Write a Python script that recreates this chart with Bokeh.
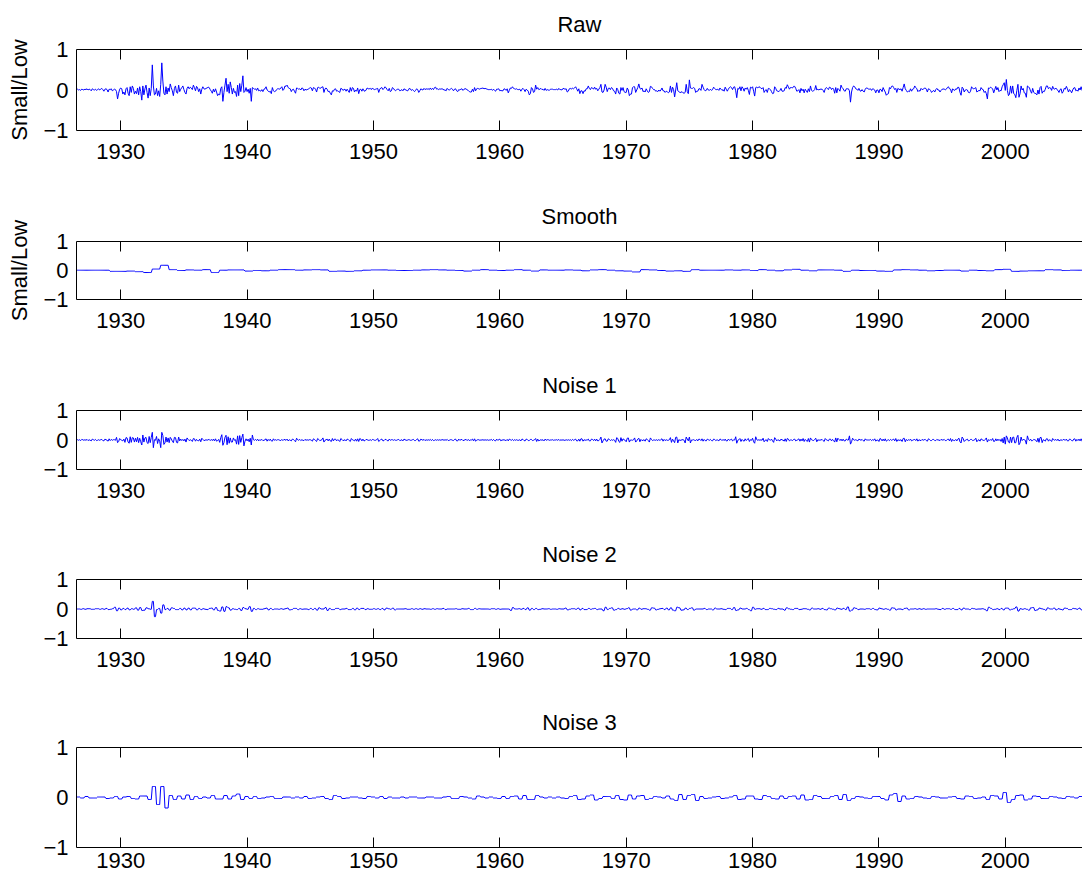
import numpy as np
from bokeh.plotting import figure
from bokeh.models import Range1d, LinearAxis, FixedTicker, CustomJSTickFormatter
from bokeh.layouts import column
from bokeh.embed import file_html
from bokeh.resources import INLINE

# ---------------- data (monthly, July 1926 .. June 2006), values in hundredths ----------------
START_YEAR = 1926.5          # July 1926
N_MONTHS = 960
TICK_YEARS = [1930, 1940, 1950, 1960, 1970, 1980, 1990, 2000]
Y_TICKS = [-1, 0, 1]
Y_TICK_LABELS = {-1: "\u22121", 0: "0", 1: "1"}
TITLES = ["Raw", "Smooth", "Noise 1", "Noise 2", "Noise 3"]
Y_LABEL = "Small/Low"

# Raw: one row per year (July .. June)
RAW = [
    [1, 2, 0, 1, -1, 2, 1, 0, 2, 1, 3, 0],
    [2, 1, -2, 3, 1, 0, 2, -1, 1, 3, 0, 2],
    [4, 1, -3, 2, 3, 1, -5, 2, 1, 3, -2, 0],
    [2, 1, -4, -22, -8, 2, 5, 3, -10, -5, -12, 3],
    [6, -8, -14, 8, -6, 10, 4, -10, -3, -9, 5, -12],
    [8, -4, -25, 10, -12, 3, 12, -6, -20, 5, -14, 4],
    [62, 10, -12, -10, 4, -14, -2, -16, 14, 67, 22, -8],
    [-12, 8, -10, 5, -4, 15, 6, -2, -14, 4, 10, -6],
    [-8, 12, -4, 2, 6, 10, 1, -6, -10, 4, 8, 3],
    [7, 5, 1, 12, 6, -2, 9, 5, -4, 3, -10, 2],
    [8, 3, 2, 4, 5, 7, 6, 1, -3, -8, 2, -5],
    [3, -5, -14, -10, -12, 4, 8, -28, -6, 12, 29, -4],
    [14, -8, 20, 6, -10, 4, -6, -4, -16, 12, -14, 16],
    [-4, 12, 35, -6, -3, 6, -4, 2, -8, 4, -28, 6],
    [4, 2, 3, -1, 5, -2, -1, -3, 1, -4, 2, 3],
    [8, 0, -2, -5, -3, -9, 6, -2, -4, -3, 1, 3],
    [3, 2, 5, 8, -1, 2, 10, 9, 12, 6, 4, 3],
    [-4, 1, 2, -3, -8, 5, 4, 2, 3, 0, 5, 4],
    [-2, 2, 0, 1, 2, 4, 6, 5, -2, 6, 5, 2],
    [-5, 6, 7, 4, 5, 7, 8, -6, 3, 5, 2, -4],
    [-3, -8, -12, -2, -3, 2, 3, -3, -2, -4, -6, 4],
    [3, -1, 1, 2, -3, 2, -2, -6, 6, -3, 6, 4],
    [-5, 0, -3, 5, -9, 1, 2, -3, 3, -2, -3, 0],
    [5, 3, 3, 4, 1, 5, 2, 1, 2, 3, 4, -6],
    [2, 5, 6, 1, 4, 8, 5, 1, -2, 4, -4, -2],
    [6, 4, 0, -2, 1, 2, 2, -2, -1, 1, -2, 3],
    [1, 0, -2, -1, 4, 3, -1, 1, -1, -4, -1, 3],
    [1, -6, -2, 3, 1, 0, 4, 1, 3, 2, 3, 1],
    [5, 1, 4, 1, 6, 7, 2, 3, 1, 3, 2, 3],
    [2, 0, 0, -2, 4, 1, 0, 2, 4, 2, -2, 2],
    [3, -2, -4, 1, 0, 2, 3, -1, 2, 3, 3, 0],
    [-1, -4, -5, -5, 2, -4, 6, -2, 3, 4, 3, 2],
    [4, 4, 5, 3, 4, 3, 2, 1, 1, 1, 2, -1],
    [2, -1, -3, 2, 2, 3, -2, -1, -2, -2, 3, 2],
    [-1, 3, -7, -1, 5, 4, 8, 4, 3, 2, 3, 1],
    [1, 2, -3, 2, 4, 1, -4, 2, 0, -3, -12, -9],
    [6, 3, -6, -4, 12, 2, 6, 1, 2, 4, 1, 2],
    [-1, 4, -1, 1, 0, -1, 2, 2, 2, 1, 1, 1],
    [2, 0, 4, 1, 1, 0, 4, 3, 2, 3, -5, -3],
    [3, 4, 2, 5, 3, 5, 8, 3, -3, 3, -9, -2],
    [-2, -9, -2, -3, 3, 3, 10, 4, 1, 6, 5, 2],
    [7, 2, 4, -2, 2, 6, 14, -5, -6, 0, 14, 7],
    [-4, 4, 5, 1, 6, 4, -2, -3, -10, 5, 1, -8],
    [-10, 6, -1, 6, -4, -6, -6, 5, 0, -14, -10, -10],
    [6, 8, 8, -6, 0, 6, 15, 4, 2, 5, -4, -2],
    [-5, 3, -2, -6, -4, 9, 8, 4, 1, 1, -3, -2],
    [-4, 0, -3, 0, 5, -2, -2, -6, -3, -4, -7, -5],
    [10, -6, 7, 1, -17, 0, 18, -2, -4, -6, -6, -4],
    [-7, -8, -6, 14, -4, -9, 25, 5, 4, 4, 6, 4],
    [-6, -3, -3, 3, 3, -1, 14, 7, 1, -2, -1, 4],
    [0, -1, 2, -1, 1, 7, 4, 1, 1, 2, -1, 5],
    [2, -1, 1, -3, 7, 2, -3, 2, 6, 8, 6, 1],
    [7, 8, -2, -19, 4, 2, 8, -2, 8, 4, -3, 5],
    [2, 6, -1, -11, 7, 5, 8, -3, -15, 6, 7, 5],
    [8, 7, 4, 3, 6, -6, -1, 1, -6, 4, 3, 1],
    [-4, -9, -8, 8, 4, -2, -3, -4, -1, 4, -3, -3],
    [-2, 6, 4, 13, 8, 2, 6, 6, 5, 9, 9, 4],
    [-3, -2, 1, -7, 4, -2, 2, -7, 2, -2, -6, 3],
    [-4, 10, -1, -3, -2, 1, 11, 0, 2, 0, 2, 2],
    [2, -1, -6, 3, 6, 4, 1, 7, 6, 1, 5, 2],
    [-8, 6, -7, 4, 1, -3, 12, 6, 3, -2, -3, 3],
    [3, 3, -2, -30, -5, 6, 10, 8, 3, 2, -1, 4],
    [-2, -3, 1, -3, -5, 2, 5, 5, 2, 2, 3, -1],
    [3, 2, 0, -7, 0, 0, -7, 2, 1, -4, 6, 0],
    [-5, -13, -10, -9, 6, 3, 9, 10, 6, 1, 4, -6],
    [4, 2, 1, 3, -3, 6, 15, 3, -1, -5, -3, -4],
    [3, -3, 2, 3, 10, 6, 3, -4, -1, -3, 4, 1],
    [2, 4, 5, 2, -5, 3, 2, -1, -6, -3, -1, -5],
    [1, 4, 0, 0, -5, -1, 2, 2, 3, 0, 2, 6],
    [8, 3, 2, -7, 3, 0, -1, 3, 2, 7, 6, -6],
    [-13, 7, 4, -5, 0, 1, 0, -6, -7, -3, 8, 4],
    [3, 4, 6, -5, -3, -1, -2, 6, 2, 1, -6, -3],
    [-9, -22, 5, 4, 7, 5, 3, -7, 1, 9, 0, 6],
    [-4, -1, -2, 8, 13, 18, -1, 26, -1, -14, -10, 10],
    [-8, 10, -9, -11, -19, -1, 14, -18, -9, 10, 0, 4],
    [-7, -8, -18, 10, 8, 5, -3, -8, 4, -6, -8, -9],
    [-12, 0, -10, 6, 9, -8, -3, -4, 2, 10, 10, 3],
    [6, 5, -1, 9, 3, 2, 5, 1, -1, -6, 1, 3],
    [-8, -4, 4, 2, 9, 3, -5, 1, -2, -7, 0, 5],
    [6, -2, 0, -3, 5, 0, 8, -1, 3, 1, -6, 0],
]

# Smooth: one value per 8-month block, three blocks per row (2 years)
SMOOTH = [
    [1, 1, 1], [1, -3, -3], [-2, -4, -7], [5, 18, 3], [0, 2, 1],
    [3, -7, 1], [2, 2, -2], [0, -1, 1], [3, 3, 1], [2, 3, 2],
    [-3, -2, -3], [-1, 1, 2], [2, 1, 0], [0, 1, 2], [3, 2, 1],
    [0, -2, 1], [3, 1, 0], [1, 3, 1], [-2, 2, 1], [1, 2, 1],
    [-1, 2, 3], [1, -1, -2], [-5, 3, 2], [0, -2, -1], [-3, 3, 1],
    [1, 1, 2], [1, 2, 0], [3, 1, -1], [2, 4, 1], [-1, 2, 2],
    [1, -3, 1], [0, 0, -2], [-3, 2, 3], [2, 1, -1], [0, 1, 1],
    [-2, 1, 0], [-1, 3, 4], [-3, -2, -1], [-1, 3, 2], [0, 1, 1],
]

# Noise 1: monthly, one row per year
NOISE1 = [
    [-1, 1, -1, 1, -2, 2, 1, -1, 1, -1, 2, -2],
    [1, -1, -3, 3, 1, -1, 2, -2, -1, 1, -1, 1],
    [2, -2, -3, 3, 1, -1, -4, 4, -2, 2, -1, 1],
    [1, -1, 9, -9, -5, 5, 1, -1, -3, 3, -8, 8],
    [7, -7, -11, 11, -8, 8, 7, -7, 6, -6, 9, -9],
    [6, -6, -17, 17, -7, 7, 9, -9, -12, 12, -9, 9],
    [26, -26, 1, -1, 12, -12, 4, -4, -26, 26, 15, -15],
    [-10, 10, -7, 7, -9, 9, 4, -4, -9, 9, 8, -8],
    [-10, 10, -3, 3, -2, 2, -3, 3, -7, 7, 2, -2],
    [1, -1, -5, 5, 4, -4, 2, -2, -3, 3, -6, 6],
    [2, -2, -1, 1, -1, 1, 2, -2, 2, -2, 3, -3],
    [4, -4, -2, 2, -8, 8, 18, -18, -9, 9, 16, -16],
    [11, -11, 7, -7, -7, 7, -1, 1, -14, 14, -15, 15],
    [-8, 8, 20, -20, -4, 4, -3, 3, -6, 6, -17, 17],
    [1, -1, 2, -2, 3, -3, 1, -1, 2, -2, -1, 1],
    [4, -4, 2, -2, 3, -3, -4, 4, -1, 1, -1, 1],
    [1, -1, -2, 2, -2, 2, 1, -1, 3, -3, 1, -1],
    [-3, 3, 2, -2, -6, 6, 1, -1, 2, -2, 1, -1],
    [-2, 2, -1, 1, -1, 1, 1, -1, -4, 4, 2, -2],
    [-5, 5, 2, -2, -1, 1, 7, -7, -1, 1, 3, -3],
    [3, -3, -5, 5, -3, 3, 3, -3, 1, -1, -5, 5],
    [2, -2, -1, 1, -3, 3, 2, -2, -5, 5, 1, -1],
    [-3, 3, -4, 4, -5, 5, 3, -3, 3, -3, -2, 2],
    [1, -1, -1, 1, -2, 2, 1, -1, -1, 1, 5, -5],
    [-2, 2, 3, -3, -2, 2, 2, -2, -3, 3, -1, 1],
    [1, -1, 1, -1, -1, 1, 2, -2, -1, 1, -3, 3],
    [1, -1, -1, 1, 1, -1, -1, 1, 2, -2, -2, 2],
    [4, -4, -3, 3, 1, -1, 2, -2, 1, -1, 1, -1],
    [2, -2, 2, -2, -1, 1, -1, 1, -1, 1, -1, 1],
    [1, -1, 1, -1, 2, -2, -1, 1, 1, -1, -2, 2],
    [3, -3, -3, 3, -1, 1, 2, -2, -1, 1, 2, -2],
    [2, -2, 0, 0, 3, -3, 4, -4, -1, 1, 1, -1],
    [0, 0, 1, -1, 1, -1, 1, -1, 0, 0, 2, -2],
    [2, -2, -3, 3, -1, 1, 3, -3, 0, 0, 1, -1],
    [-2, 2, -3, 3, 1, -1, 2, -2, 1, -1, 1, -1],
    [-1, 1, -3, 3, 2, -2, -3, 3, 2, -2, -2, 2],
    [2, -2, -1, 1, 5, -5, 3, -3, -1, 1, -1, 1],
    [-3, 3, -1, 1, 1, -1, 0, 0, 1, -1, 0, 0],
    [1, -1, 2, -2, 1, -1, 1, -1, -1, 1, -1, 1],
    [-1, 1, -2, 2, -1, 1, 3, -3, -3, 3, -4, 4],
    [4, -4, 1, -1, 0, 0, 3, -3, -3, 3, 2, -2],
    [3, -3, 3, -3, -2, 2, 10, -10, -3, 3, 4, -4],
    [-4, 4, 2, -2, 1, -1, 1, -1, -8, 8, 5, -5],
    [-8, 8, -4, 4, 1, -1, -6, 6, 7, -7, 0, 0],
    [-1, 1, 7, -7, -3, 3, 6, -6, 2, -2, -1, 1],
    [-4, 4, 2, -2, -7, 7, 2, -2, 0, 0, -1, 1],
    [-2, 2, -2, 2, 4, -4, 2, -2, 1, -1, -1, 1],
    [8, -8, 3, -3, -9, 9, 10, -10, 1, -1, -1, 1],
    [1, -1, -10, 10, 3, -3, 10, -10, 0, 0, 1, -1],
    [-2, 2, -3, 3, 2, -2, 4, -4, 2, -2, -3, 3],
    [1, -1, 2, -2, -3, 3, 2, -2, 0, 0, -3, 3],
    [2, -2, 2, -2, 3, -3, -3, 3, -1, 1, 3, -3],
    [0, 0, 11, -11, -1, 1, 5, -5, 2, -2, -4, 4],
    [-2, 2, 5, -5, 1, -1, 6, -6, -11, 11, 1, -1],
    [1, -1, 1, -1, 6, -6, -1, 1, -5, 5, 1, -1],
    [3, -3, -8, 8, 3, -3, 1, -1, -3, 3, 0, 0],
    [-4, 4, -5, 5, 3, -3, 0, 0, -2, 2, 3, -3],
    [-1, 1, 4, -4, 3, -3, 5, -5, 2, -2, -5, 5],
    [-7, 7, 1, -1, -2, 2, 6, -6, 1, -1, 0, 0],
    [2, -2, -5, 5, 1, -1, -3, 3, 3, -3, 2, -2],
    [-7, 7, -6, 6, 2, -2, 3, -3, 3, -3, -3, 3],
    [0, 0, 14, -14, -6, 6, 1, -1, 1, -1, -3, 3],
    [1, -1, 2, -2, -4, 4, 0, 0, 0, 0, 2, -2],
    [1, -1, 4, -4, 0, 0, -5, 5, 3, -3, 3, -3],
    [4, -4, -1, 1, -2, 2, -1, 1, 3, -3, 5, -5],
    [1, -1, -1, 1, -5, 5, 6, -6, 2, -2, 1, -1],
    [3, -3, -1, 1, 2, -2, 4, -4, 1, -1, -2, 2],
    [-1, 1, 2, -2, -4, 4, 2, -2, -2, 2, 2, -2],
    [-2, 2, 0, 0, -2, 2, 0, 0, 2, -2, -2, 2],
    [3, -3, 5, -5, 2, -2, -2, 2, -3, 3, 6, -6],
    [-10, 10, 5, -5, -1, 1, 3, -3, -2, 2, 2, -2],
    [-1, 1, 6, -6, -1, 1, -4, 4, 1, -1, -2, 2],
    [7, -7, 1, -1, 1, -1, 5, -5, -4, 4, -3, 3],
    [-2, 2, -5, 5, -10, 10, -14, 14, 7, -7, -10, 10],
    [-9, 9, 10, -10, -9, 9, 16, -16, -10, 10, -2, 2],
    [1, -1, -14, 14, 2, -2, 3, -3, -2, 2, 1, -1],
    [-6, 6, -8, 8, 9, -9, 1, -1, -4, 4, 4, -4],
    [1, -1, -5, 5, 1, -1, 2, -2, 3, -3, -1, 1],
    [-2, 2, 1, -1, 3, -3, -3, 3, 2, -2, -3, 3],
    [4, -4, 2, -2, 3, -3, 4, -4, 1, -1, 3, -3],
]

# Noise 2: one value per 2-month half block, one row per year
NOISE2 = [
    [0, 0, -1, 1, -1, 1], [1, -1, -1, 1, 1, -1], [1, -1, 2, -2, -1, 1],
    [6, -6, 3, -3, 2, -2], [3, -3, 1, -1, 4, -4], [5, -5, -4, 4, 1, -1],
    [26, -26, -2, 2, -14, 14], [-2, 2, -4, 4, 2, -2], [-2, 2, -3, 3, -3, 3],
    [-3, 3, 3, -3, 2, -2], [1, -1, -2, 2, 3, -3], [5, -5, -7, 7, -8, 8],
    [4, -4, 1, -1, -2, 2], [-5, 5, 1, -1, 8, -8], [2, -2, 1, -1, -1, 1],
    [3, -3, 2, -2, 0, 0], [-1, 1, -1, 1, 3, -3], [-2, 2, 2, -2, 1, -1],
    [0, 0, -2, 2, -2, 2], [-4, 4, 0, 0, 5, -5], [2, -2, -2, 2, 2, -2],
    [0, 0, 2, -2, -2, 2], [-3, 3, -2, 2, 2, -2], [1, -1, -1, 1, -1, 1],
    [-2, 2, -3, 3, 1, -1], [3, -3, 0, 0, 0, 0], [1, -1, -1, 1, -1, 1],
    [-1, 1, -1, 1, 0, 0], [-1, 1, -1, 1, 0, 0], [2, -2, 0, 0, 0, 0],
    [1, -1, -1, 1, 0, 0], [2, -2, -2, 2, -1, 1], [0, 0, 0, 0, -1, 1],
    [1, -1, 1, -1, 0, 0], [0, 0, -5, 5, 0, 0], [1, -1, 2, -2, 4, -4],
    [2, -2, 2, -2, -1, 1], [0, 0, 1, -1, 0, 0], [-1, 1, 0, 0, 3, -3],
    [-1, 1, 1, -1, 3, -3], [2, -2, -2, 2, -1, 1], [2, -2, 0, 0, -6, 6],
    [-2, 2, 4, -4, -2, 2], [-1, 1, -1, 1, 4, -4], [0, 0, -3, 3, -1, 1],
    [1, -1, -4, 4, 3, -3], [-1, 1, 2, -2, 3, -3], [4, -4, -6, 6, 4, -4],
    [-3, 3, -2, 2, 4, -4], [0, 0, 0, 0, 2, -2], [0, 0, -3, 3, 0, 0],
    [1, -1, -2, 2, 2, -2], [5, -5, -3, 3, 0, 0], [2, -2, -6, 6, -1, 1],
    [1, -1, 2, -2, -2, 2], [1, -1, -2, 2, 0, 0], [-4, 4, 1, -1, -2, 2],
    [2, -2, -1, 1, 1, -1], [-3, 3, 0, 0, 1, -1], [2, -2, -3, 3, 1, -1],
    [-3, 3, 1, -1, 2, -2], [7, -7, -4, 4, 2, -2], [0, 0, -1, 1, 1, -1],
    [2, -2, -3, 3, 1, -1], [1, -1, -4, 4, 3, -3], [0, 0, -2, 2, 3, -3],
    [0, 0, 1, -1, 1, -1], [1, -1, 0, 0, 0, 0], [1, -1, -2, 2, -1, 1],
    [1, -1, 2, -2, -2, 2], [-3, 3, 0, 0, -2, 2], [1, -1, 0, 0, 1, -1],
    [-6, 6, 2, -2, -1, 1], [-2, 2, -3, 3, 3, -3], [-1, 1, 7, -7, 1, -1],
    [1, -1, -4, 4, 5, -5], [-3, 3, 1, -1, -4, 4], [0, 0, 3, -3, 1, -1],
    [-3, 3, 2, -2, -2, 2], [1, -1, 3, -3, 0, 0],
]

# Noise 3: one value per 4-month half block, one row per 2 years
NOISE3 = [
    [1, -1, 2, -1, -1, 1], [1, -2, -1, 2, -3, 1], [2, -2, -3, 3, 3, -4],
    [22, -14, 22, -21, 4, -4], [3, -3, 5, -4, 2, -2], [1, -1, 4, -3, -3, 4],
    [-3, 3, 7, -4, 2, -2], [2, -2, -1, 1, 2, -2], [-2, 1, 1, -1, 1, -1],
    [2, -2, -1, 1, 2, -2], [-4, 4, 2, -2, -1, 1], [1, -1, -2, 2, 1, -1],
    [2, -2, 1, -1, -1, 1], [-1, 1, 1, -1, -1, 1], [1, -1, -1, 1, 2, -2],
    [-2, 2, 1, -1, -3, 3], [1, -1, 1, -1, -2, 2], [-2, 2, 3, -3, 4, -4],
    [-4, 4, 1, -1, 1, -1], [1, -1, -2, 2, 4, -4], [-3, 3, 5, -5, -2, 2],
    [2, -2, 4, -4, -5, 5], [-3, 3, 4, -4, -2, 2], [1, -1, 3, -3, -6, 6],
    [-4, 4, 6, -6, 2, -2], [-1, 1, 2, -2, -1, 1], [4, -4, -3, 3, 3, -3],
    [-4, 4, 2, -2, -3, 3], [-2, 2, 3, -3, 5, -5], [-4, 4, 2, -2, -2, 2],
    [4, -4, 6, -6, -2, 2], [1, -1, -2, 2, 2, -2], [-5, 5, 8, -8, 3, -3],
    [-2, 2, 1, -1, -2, 2], [1, -1, -1, 1, 2, -2], [-3, 3, 2, -2, -1, 1],
    [-4, 4, 3, -3, 10, -10], [-4, 4, 5, -5, -3, 3], [2, -2, -2, 2, 1, -1],
    [-2, 2, 1, -1, 2, -2],
]

# ---------------- series on the monthly grid ----------------
dates = START_YEAR + np.arange(N_MONTHS) / 12.0
raw = np.array(RAW, dtype=float).ravel() / 100.0
smooth = np.repeat(np.array(SMOOTH, dtype=float).ravel(), 8) / 100.0
noise1 = np.array(NOISE1, dtype=float).ravel() / 100.0
noise2 = np.repeat(np.array(NOISE2, dtype=float).ravel(), 2) / 100.0
noise3 = np.repeat(np.array(NOISE3, dtype=float).ravel(), 4) / 100.0
SERIES = [raw, smooth, noise1, noise2, noise3]

FONT = "Liberation Sans"
FS = "22px"
X_END = 2006.11

# frame heights and borders of the five panels
FRAME_H = [81, 58, 59, 59, 100]
TOPS = [49, 56, 56, 55, 55]
BOTTOMS = [55, 55, 55, 54, 30]
STANDOFF = [13, 13, 13, 13, 5]


def panel(i):
    p = figure(frame_width=1006, frame_height=FRAME_H[i],
               min_border_left=76, min_border_right=0,
               min_border_top=TOPS[i], min_border_bottom=BOTTOMS[i],
               x_range=Range1d(START_YEAR, X_END), y_range=Range1d(-1, 1),
               x_axis_location=None, y_axis_location=None,
               output_backend="svg", toolbar_location=None)
    p.outline_line_color = None
    p.grid.visible = False
    p.background_fill_color = "white"
    p.border_fill_color = "white"

    xt = FixedTicker(ticks=TICK_YEARS)
    below = LinearAxis(ticker=xt, major_tick_in=10, major_tick_out=0,
                       minor_tick_in=0, minor_tick_out=0,
                       major_label_standoff=STANDOFF[i],
                       major_label_text_font=FONT, major_label_text_font_size=FS,
                       major_label_text_color="black",
                       axis_line_color="black", major_tick_line_color="black")
    # top border with inward ticks; the panel title sits above it
    above = LinearAxis(ticker=xt, major_tick_in=10, major_tick_out=0,
                       minor_tick_in=0, minor_tick_out=0,
                       major_label_standoff=0,
                       formatter=CustomJSTickFormatter(code="return ''"),
                       major_label_text_font_size="1px",
                       axis_label=TITLES[i], axis_label_standoff=13,
                       axis_label_text_font=FONT, axis_label_text_font_size=FS,
                       axis_label_text_font_style="normal",
                       axis_label_text_color="black",
                       axis_line_color="black", major_tick_line_color="black")
    left = LinearAxis(ticker=FixedTicker(ticks=Y_TICKS), major_tick_in=0, major_tick_out=0,
                      minor_tick_in=0, minor_tick_out=0,
                      major_label_overrides=Y_TICK_LABELS,
                      major_label_standoff=8,
                      major_label_text_font=FONT, major_label_text_font_size=FS,
                      major_label_text_color="black",
                      axis_line_color="black")
    if i < 2:
        left.axis_label = Y_LABEL
        left.axis_label_text_font = FONT
        left.axis_label_text_font_size = FS
        left.axis_label_text_font_style = "normal"
        left.axis_label_text_color = "black"
        left.axis_label_standoff = 8
    p.add_layout(below, "below")
    p.add_layout(above, "above")
    p.add_layout(left, "left")

    p.line(dates, SERIES[i], line_color="#0000ff", line_width=1)
    return p


layout = column(*[panel(i) for i in range(5)], spacing=0)
open("out.html", "w").write(file_html(layout, INLINE))
